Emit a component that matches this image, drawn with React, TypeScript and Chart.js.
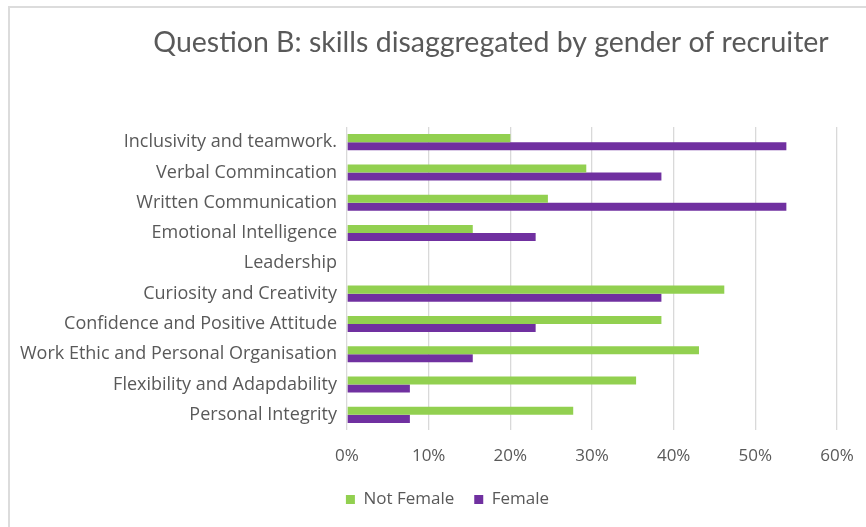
import React, { useEffect, useRef } from "react";
import { Chart, registerables } from "chart.js";

Chart.register(...registerables);

const categories = [
  "Inclusivity and teamwork.",
  "Verbal Commincation",
  "Written Communication",
  "Emotional Intelligence",
  "Leadership",
  "Curiosity and Creativity",
  "Confidence and Positive Attitude",
  "Work Ethic and Personal Organisation",
  "Flexibility and Adapdability",
  "Personal Integrity",
];

const notFemale = [0.2, 0.293, 0.246, 0.154, 0, 0.462, 0.385, 0.431, 0.354, 0.277];
const female = [0.538, 0.385, 0.538, 0.231, 0, 0.385, 0.231, 0.154, 0.077, 0.077];

const xTicks = [0, 0.1, 0.2, 0.3, 0.4, 0.5, 0.6];

const titleText = "Question B: skills disaggregated by gender of recruiter";

const TEXT = "#595959";

const titlePlugin = {
  id: "customTitle",
  afterDraw(chart: any) {
    const ctx = chart.ctx;
    ctx.save();
    ctx.font = "28.5px Lato";
    ctx.fillStyle = TEXT;
    ctx.textAlign = "center";
    ctx.textBaseline = "middle";
    ctx.fillText(titleText, 491, 43);
    ctx.restore();
  },
};

// shift the legend so it sits centred where the reference has it
const legendShiftPlugin = {
  id: "legendShift",
  afterLayout(chart: any) {
    const lg = chart.legend;
    if (lg) {
      lg.left += 29;
      lg.right += 29;
    }
  },
};

export default function App() {
  const ref = useRef<HTMLCanvasElement | null>(null);

  useEffect(() => {
    if (!ref.current) return;
    const chart = new Chart(ref.current, {
      type: "bar",
      data: {
        labels: categories,
        datasets: [
          {
            label: "Not Female",
            data: notFemale,
            backgroundColor: "#92d050",
            categoryPercentage: 0.53,
            barPercentage: 1,
          },
          {
            label: "Female",
            data: female,
            backgroundColor: "#7030a0",
            categoryPercentage: 0.53,
            barPercentage: 1,
          },
        ],
      },
      options: {
        indexAxis: "y",
        animation: false,
        responsive: false,
        maintainAspectRatio: false,
        layout: { padding: { top: 127, left: 0, right: 29, bottom: 9 } },
        plugins: {
          title: { display: false },
          tooltip: { enabled: false },
          legend: {
            position: "bottom",
            labels: {
              boxWidth: 9,
              boxHeight: 9,
              padding: 20,
              color: TEXT,
              font: { family: "Open Sans", size: 17 },
            },
          },
        },
        scales: {
          x: {
            min: 0,
            max: 0.6,
            afterBuildTicks(scale: any) {
              scale.ticks = xTicks.map((v) => ({ value: v }));
            },
            afterFit(scale: any) {
              scale.height = 41;
              scale.paddingRight = 0;
              scale.paddingLeft = 0;
            },
            ticks: {
              padding: 16,
              color: TEXT,
              font: { family: "Open Sans", size: 17 },
              callback: (v: any) => Math.round(Number(v) * 100) + "%",
            },
            grid: { color: "#d9d9d9", lineWidth: 1.3, drawTicks: false },
            border: { display: false },
          },
          y: {
            afterFit(scale: any) {
              scale.width = 347;
            },
            ticks: {
              padding: 10,
              color: TEXT,
              font: { family: "Open Sans", size: 18 },
            },
            grid: { display: false, drawTicks: false },
            border: { display: false },
          },
        },
      },
      plugins: [titlePlugin, legendShiftPlugin],
    });
    return () => chart.destroy();
  }, []);

  return (
    <div style={{ position: "absolute", left: 0, top: 0, width: 866, height: 527, background: "#fff", overflow: "hidden" }}>
      <div
        style={{
          position: "absolute",
          left: 8,
          top: 6,
          right: 0,
          bottom: 0,
          borderTop: "2px solid #dcdcdc",
          borderLeft: "2px solid #dcdcdc",
        }}
      />
      <canvas ref={ref} width={866} height={527} style={{ position: "absolute", left: 0, top: 0 }} />
    </div>
  );
}
